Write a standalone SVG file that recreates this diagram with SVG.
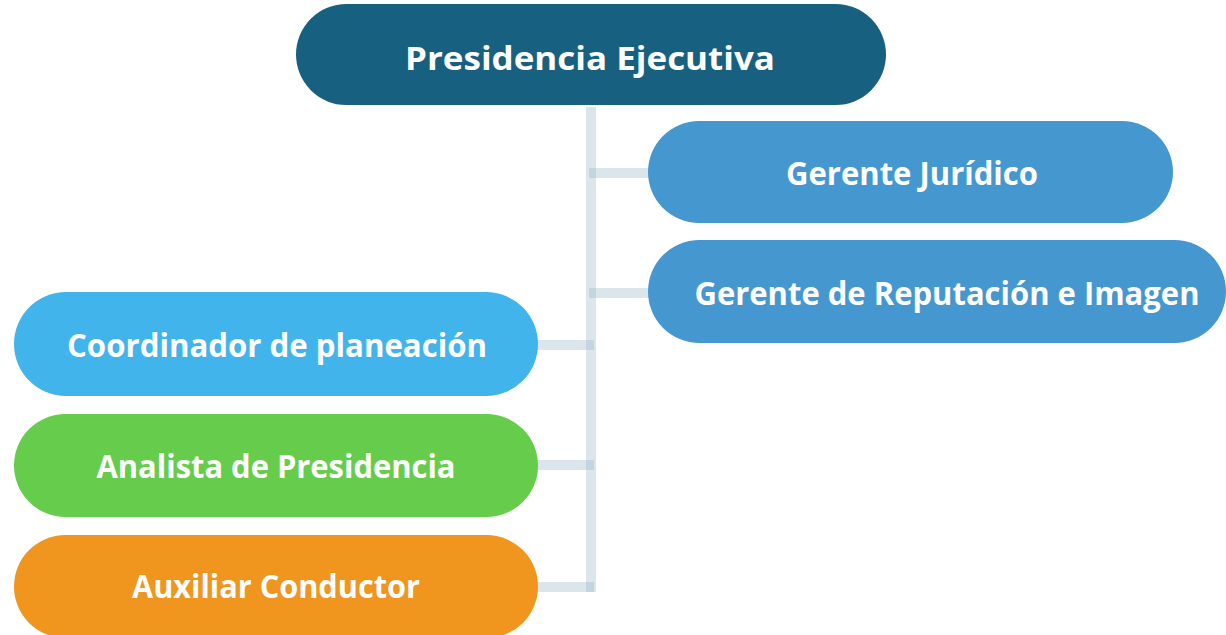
<svg xmlns="http://www.w3.org/2000/svg" width="1226" height="635" viewBox="0 0 1226 635">
<style>
.t{font-family:"Open Sans","Liberation Sans",sans-serif;font-weight:bold;font-size:33px;fill:#fff;text-anchor:middle}
.c{fill:#92B4C6;fill-opacity:0.33}
</style>
<rect width="1226" height="635" fill="#fff"/>
<g id="connectors">
<rect class="c" x="586" y="107" width="10" height="485"/>
<rect class="c" x="589" y="168" width="62" height="10"/>
<rect class="c" x="589" y="288" width="62" height="10"/>
<rect class="c" x="536" y="340" width="58" height="10"/>
<rect class="c" x="536" y="460" width="58" height="10"/>
<rect class="c" x="536" y="582" width="58" height="10"/>
</g>
<g id="presidencia">
<rect x="296" y="4" width="590" height="101" rx="50.5" fill="#17607F"/>
<text class="t" x="590" y="70" textLength="370" lengthAdjust="spacingAndGlyphs">Presidencia Ejecutiva</text>
</g>
<g id="juridico">
<rect x="648" y="121" width="525" height="102" rx="51" fill="#4597D0"/>
<text class="t" x="912" y="185" textLength="252" lengthAdjust="spacingAndGlyphs">Gerente Jurídico</text>
</g>
<g id="reputacion">
<rect x="648" y="240" width="578" height="103" rx="51.5" fill="#4597D0"/>
<text class="t" x="947" y="305" textLength="505" lengthAdjust="spacingAndGlyphs">Gerente de Reputación e Imagen</text>
</g>
<g id="coordinador">
<rect x="14" y="292" width="524" height="104" rx="52" fill="#42B4EC"/>
<text class="t" x="277" y="357" textLength="420" lengthAdjust="spacingAndGlyphs">Coordinador de planeación</text>
</g>
<g id="analista">
<rect x="14" y="414" width="524" height="103" rx="51.5" fill="#66CC4C"/>
<text class="t" x="276" y="478" textLength="359" lengthAdjust="spacingAndGlyphs">Analista de Presidencia</text>
</g>
<g id="auxiliar">
<rect x="14" y="535" width="524" height="103" rx="51.5" fill="#F0961E"/>
<text class="t" x="276" y="598" textLength="288" lengthAdjust="spacingAndGlyphs">Auxiliar Conductor</text>
</g>
</svg>
